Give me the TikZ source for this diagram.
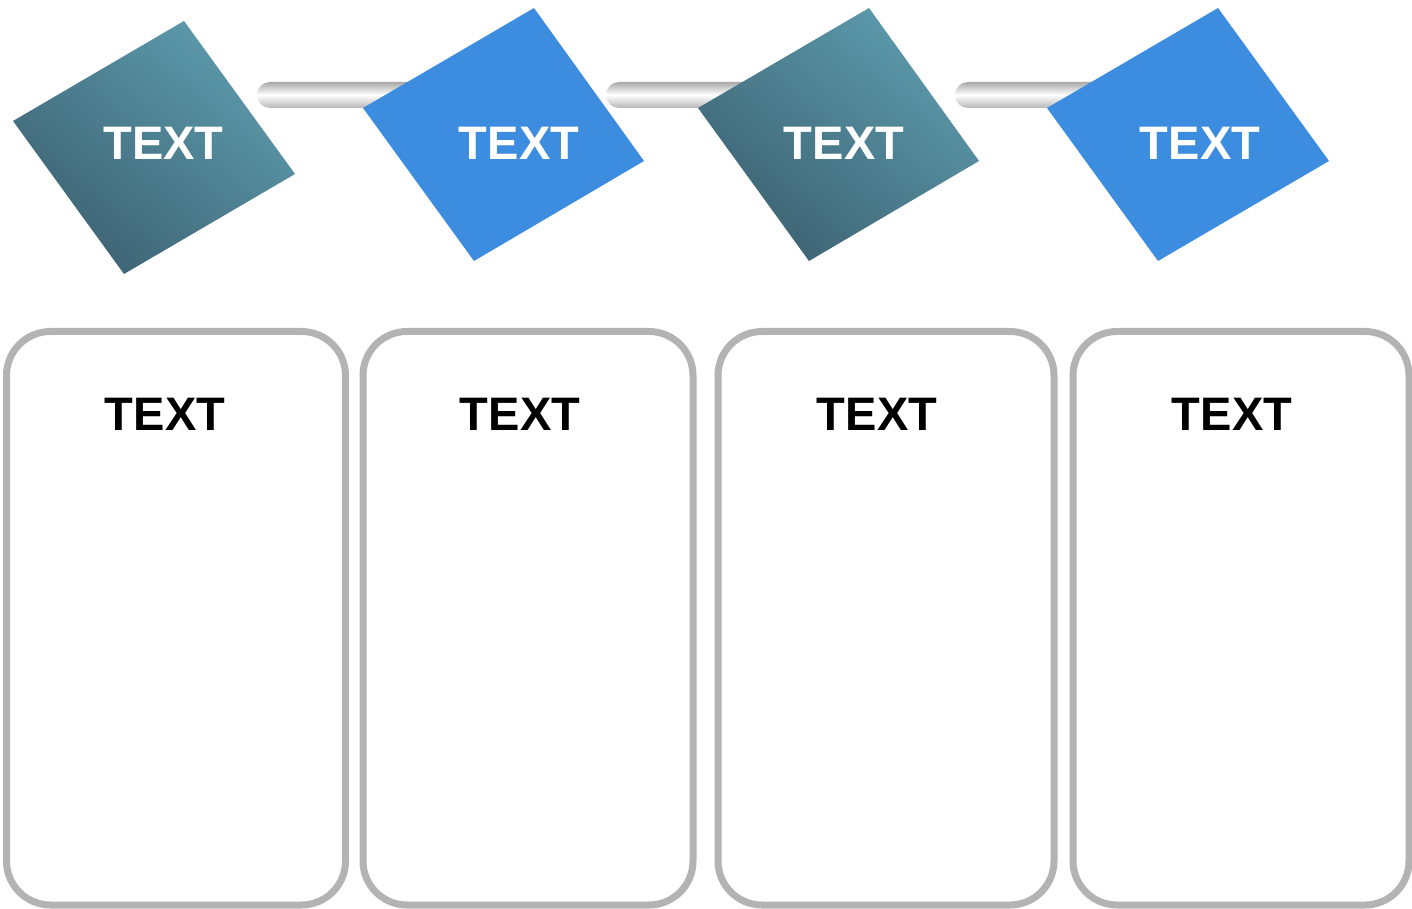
\documentclass[tikz,border=0pt]{standalone}
\usepackage{fontspec}
\setmainfont{Liberation Sans}
\definecolor{tealdark}{HTML}{3D6272}
\definecolor{teallight}{HTML}{5C9BAD}
\definecolor{bluefill}{HTML}{3C8DDF}
\definecolor{boxgray}{HTML}{B3B3B3}
\definecolor{bargray}{HTML}{A9A9A9}
\begin{document}
\begin{tikzpicture}[x=1pt,y=1pt,
  bar/.style={top color=bargray, bottom color=bargray!85, middle color=white, rounded corners=13pt},
  tealdia/.style={top color=teallight, bottom color=tealdark, shading angle=-40},
  bluedia/.style={fill=bluefill},
  cardbox/.style={draw=boxgray, line width=7pt, fill=white, rounded corners=44pt, inner sep=0pt},
  wlabel/.style={text=white, font=\fontsize{47}{50}\selectfont\bfseries, inner sep=0pt},
  blabel/.style={text=black, font=\fontsize{47}{50}\selectfont\bfseries, inner sep=0pt}]
\useasboundingbox (0,0) rectangle (1412,908);
% bars
\shade[bar] (257,800) rectangle (460,826);
\shade[bar] (606,800) rectangle (800,826);
\shade[bar] (955,800) rectangle (1140,826);
% diamonds
\shade[tealdia] (184,887) -- (295,734) -- (124,634) -- (13,787) -- cycle;
\fill[bluedia] (534,900) -- (644,747) -- (474,647) -- (363,800) -- cycle;
\shade[tealdia] (869,900) -- (979,747) -- (809,647) -- (698,800) -- cycle;
\fill[bluedia] (1218,900) -- (1329,747) -- (1158,647) -- (1047,800) -- cycle;
\node[wlabel] (d1) at (163.5,765) {TEXT};
\node[wlabel] (d2) at (519,765) {TEXT};
\node[wlabel] (d3) at (844,765) {TEXT};
\node[wlabel] (d4) at (1200,765) {TEXT};
% boxes
\node[cardbox, minimum width=339pt, minimum height=573.5pt] (b1) at (176,289.75) {};
\node[cardbox, minimum width=330pt, minimum height=573.5pt] (b2) at (528,289.75) {};
\node[cardbox, minimum width=336pt, minimum height=573.5pt] (b3) at (886,289.75) {};
\node[cardbox, minimum width=336pt, minimum height=573.5pt] (b4) at (1241,289.75) {};
\node[blabel] (t1) at (165,494) {TEXT};
\node[blabel] (t2) at (520,494) {TEXT};
\node[blabel] (t3) at (877,494) {TEXT};
\node[blabel] (t4) at (1232,494) {TEXT};
\end{tikzpicture}
\end{document}
